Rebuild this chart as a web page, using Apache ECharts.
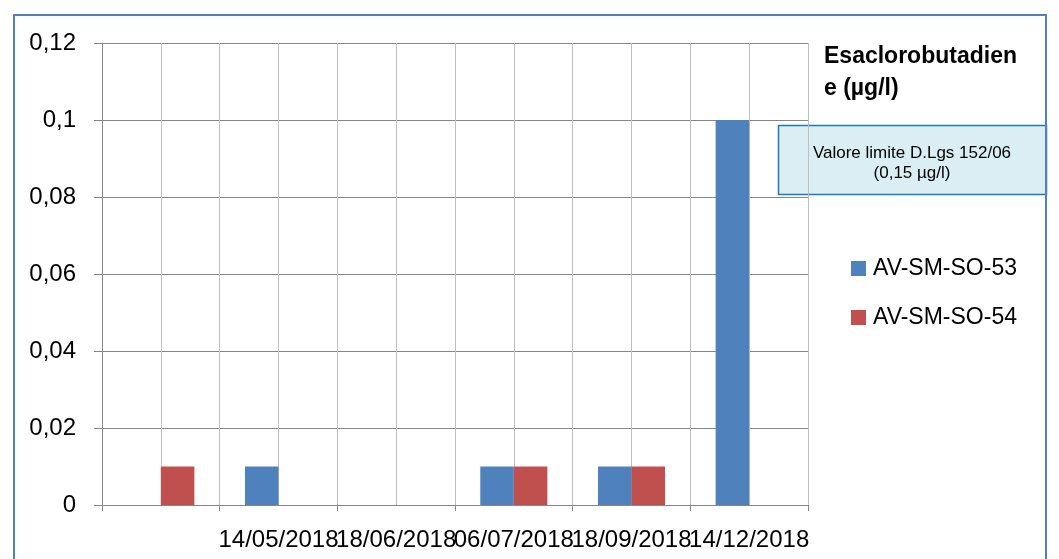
<!DOCTYPE html>
<html>
<head>
<meta charset="utf-8">
<script src="https://cdn.jsdelivr.net/npm/echarts@6/dist/echarts.min.js"></script>
<style>
  html, body { margin: 0; padding: 0; background: #ffffff; }
  #chart { width: 1059px; height: 559px; }
</style>
</head>
<body>
<div id="chart"></div>
<script>
// Sampling dates (first slot has no date label)
const categories = ['', '14/05/2018', '18/06/2018', '06/07/2018', '18/09/2018', '14/12/2018'];
// Hexachlorobutadiene concentrations (µg/l) per monitoring point
const seriesNames = ['AV-SM-SO-53', 'AV-SM-SO-54'];
const valuesSO53 = [null, 0.01, null, 0.01, 0.01, 0.1];
const valuesSO54 = [0.01, null, null, 0.01, 0.01, null];
// Value axis ticks
const yMin = 0, yMax = 0.12, yStep = 0.02;

const FONT = 'Liberation Sans, Arial, sans-serif';
const chart = echarts.init(document.getElementById('chart'), null, { renderer: 'canvas' });

const fmt = v => String(Number(v.toFixed(2))).replace('.', ',');

chart.setOption({
  animation: false,
  backgroundColor: '#ffffff',
  title: {
    text: 'Esaclorobutadien\ne (µg/l)',
    left: 824,
    top: 41,
    padding: 0,
    textStyle: { fontFamily: FONT, fontSize: 23, fontWeight: 'bold', color: '#000', lineHeight: 32 }
  },
  legend: {
    orient: 'vertical',
    left: 851,
    top: 257,
    padding: 0,
    icon: 'rect',
    itemWidth: 15,
    itemHeight: 15,
    itemGap: 26,
    data: seriesNames,
    textStyle: { fontFamily: FONT, fontSize: 23, color: '#000', lineHeight: 22, padding: [1, 0, 0, 2] }
  },
  grid: { left: 102, right: 251, top: 43, bottom: 54, containLabel: false },
  xAxis: [
    {
      type: 'category',
      data: categories,
      boundaryGap: true,
      axisLine: { show: true, lineStyle: { color: '#868686', width: 1 } },
      axisTick: { show: true, length: 6, lineStyle: { color: '#868686' } },
      axisLabel: { interval: 0, fontFamily: FONT, fontSize: 24, color: '#000', margin: 23, lineHeight: 24 },
      splitLine: { show: false }
    },
    {
      // light vertical grid every half category
      type: 'value',
      min: 0,
      max: categories.length,
      interval: 0.5,
      position: 'top',
      axisLine: { show: false },
      axisTick: { show: false },
      axisLabel: { show: false },
      splitLine: { show: true, lineStyle: { color: '#bfbfbf', width: 1 } }
    }
  ],
  yAxis: {
    type: 'value',
    min: yMin,
    max: yMax,
    interval: yStep,
    axisLine: { show: true, lineStyle: { color: '#868686', width: 1 } },
    axisTick: { show: true, length: 8, lineStyle: { color: '#868686' } },
    axisLabel: { fontFamily: FONT, fontSize: 24, color: '#000', margin: 26, formatter: fmt },
    splitLine: { show: true, lineStyle: { color: '#868686', width: 1 } }
  },
  series: [
    {
      name: seriesNames[0],
      type: 'bar',
      xAxisIndex: 0,
      data: valuesSO53,
      barWidth: '28.5%',
      barGap: '0%',
      itemStyle: { color: '#4f81bd' },
      z: 3
    },
    {
      name: seriesNames[1],
      type: 'bar',
      xAxisIndex: 0,
      data: valuesSO54,
      barWidth: '28.5%',
      barGap: '0%',
      itemStyle: { color: '#c0504d' },
      z: 3
    }
  ],
  graphic: [
    {
      type: 'rect',
      silent: true,
      z: 100,
      shape: { x: 14, y: 15, width: 1032, height: 600 },
      style: { fill: 'none', stroke: '#4f81bd', lineWidth: 2 }
    },
    {
      type: 'group',
      z: 110,
      children: [
        {
          type: 'rect',
          shape: { x: 778.5, y: 125.5, width: 268, height: 69 },
          style: { fill: '#daeef3', stroke: '#1e78c2', lineWidth: 1.5 }
        },
        {
          type: 'text',
          x: 912,
          y: 153,
          style: {
            text: 'Valore limite D.Lgs 152/06',
            fontFamily: FONT, fontSize: 17, fill: '#000',
            align: 'center', verticalAlign: 'middle'
          }
        },
        {
          type: 'text',
          x: 912,
          y: 173,
          style: {
            text: '(0,15 µg/l)',
            fontFamily: FONT, fontSize: 17, fill: '#000',
            align: 'center', verticalAlign: 'middle'
          }
        }
      ]
    }
  ]
});
</script>
</body>
</html>
